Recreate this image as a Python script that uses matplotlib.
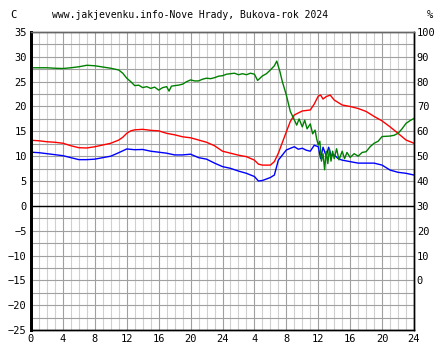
import matplotlib
matplotlib.use('Agg')
import matplotlib.pyplot as plt
import numpy as np

# hodiny od zacatku 48h okna
temp_t = [0, 1, 2, 3, 4, 5, 6, 7, 8, 9, 10, 11, 11.5, 12, 12.5, 13, 14, 15, 16, 17, 18, 19, 20,
          21, 22, 23, 24, 25, 26, 27, 28, 28.5, 29, 30, 30.5, 31, 32, 32.5, 33, 34, 35, 35.5,
          36, 36.3, 36.6, 37, 37.5, 38, 39, 40, 41, 42, 43, 44, 45, 46, 47, 48]
temp_c = [13.2, 13.1, 12.9, 12.8, 12.6, 12.1, 11.7, 11.65, 11.9, 12.25, 12.6, 13.25, 13.8, 14.6,
          15.1, 15.3, 15.4, 15.2, 15.1, 14.6, 14.3, 13.9, 13.7, 13.25, 12.8, 12.1, 11.0, 10.6,
          10.2, 9.9, 9.2, 8.4, 8.2, 8.2, 8.9, 10.6, 14.9, 17.0, 18.3, 19.1, 19.3, 20.5, 22.1,
          22.3, 21.5, 22.0, 22.3, 21.3, 20.3, 20.0, 19.6, 19.0, 18.0, 17.1, 15.9, 14.6, 13.25, 12.6]

dew_t = [0, 1, 2, 3, 4, 5, 6, 7, 8, 9, 10, 11, 12, 13, 14, 15, 16, 17, 18, 19, 20, 21, 22, 23,
         24, 25, 26, 27, 28, 28.5, 29, 30, 30.5, 31, 32, 33, 33.5, 34, 34.5, 35, 35.5, 36, 36.3,
         36.6, 37, 37.3, 37.6, 38, 38.5, 39, 40, 41, 42, 43, 44, 45, 46, 47, 48]
dew_c = [10.8, 10.7, 10.5, 10.3, 10.1, 9.7, 9.3, 9.3, 9.4, 9.7, 10.0, 10.7, 11.45, 11.3, 11.35,
         11.0, 10.8, 10.6, 10.25, 10.25, 10.4, 9.7, 9.4, 8.6, 7.9, 7.55, 7.0, 6.55, 5.9, 5.0, 5.1,
         5.7, 6.2, 9.2, 11.25, 11.9, 11.4, 11.6, 11.2, 11.0, 12.2, 11.9, 9.5, 11.8, 10.0, 11.8,
         10.2, 10.25, 9.5, 9.2, 8.9, 8.6, 8.6, 8.6, 8.2, 7.2, 6.75, 6.55, 6.2]

hum_t = [0, 1, 2, 3, 4, 5, 6, 7, 8, 9, 10, 11, 11.5, 12, 12.5, 13, 13.5, 14, 14.5, 15, 15.5, 16,
         16.5, 17, 17.3, 17.6, 18, 18.5, 19, 19.5, 20, 20.5, 21, 21.5, 22, 22.5, 23, 23.5, 24,
         24.5, 25, 25.5, 26, 26.5, 27, 27.5, 28, 28.4, 29, 29.5, 30, 30.5, 30.8, 31.2, 31.5, 32,
         32.5, 33, 33.3, 33.6, 34, 34.3, 34.6, 35, 35.3, 35.6, 35.8, 36, 36.2, 36.4, 36.6, 36.8,
         37, 37.2, 37.4, 37.6, 37.8, 38, 38.3, 38.6, 39, 39.3, 39.6, 40, 40.5, 41, 41.5, 42,
         42.5, 43, 43.5, 44, 44.5, 45, 45.5, 46, 46.5, 47, 47.5, 48]
hum_pct = [85.6, 85.6, 85.6, 85.4, 85.3, 85.6, 86.0, 86.6, 86.4, 85.9, 85.4, 84.7, 83.4, 81.4,
           80.0, 78.4, 78.6, 77.6, 78.0, 77.3, 77.8, 76.6, 77.6, 78.0, 76.2, 78.2, 78.4, 78.6,
           79.0, 80.0, 80.7, 80.3, 80.3, 81.0, 81.4, 81.2, 81.6, 82.2, 82.4, 83.0, 83.2, 83.4,
           82.8, 83.2, 82.8, 83.4, 83.0, 80.5, 82.3, 83.2, 84.7, 86.4, 88.3, 84.0, 80.0, 74.6,
           68.0, 64.6, 62.5, 65.0, 61.8, 64.5, 61.0, 63.0, 59.0, 60.5, 57.0, 54.5, 56.0, 48.0,
           51.0, 44.5, 52.0, 47.0, 53.0, 48.0, 52.0, 49.0, 53.0, 48.5, 52.0, 49.0, 51.5, 49.5,
           51.0, 50.0, 51.5, 51.8, 53.8, 55.2, 56.0, 57.9, 58.0, 58.1, 58.4, 59.2, 61.0, 63.2,
           64.3, 65.2]

x_ticks = [0, 4, 8, 12, 16, 20, 24, 28, 32, 36, 40, 44, 48]
x_labels = ['0', '4', '8', '12', '16', '20', '24', '4', '8', '12', '16', '20', '24']
title = 'www.jakjevenku.info-Nove Hrady, Bukova-rok 2024'

plt.rcParams['font.family'] = ['DejaVu Sans Mono']

fig = plt.figure(figsize=(4.44, 3.6), dpi=100)
ax = fig.add_axes([31 / 444, 30 / 360, 383 / 444, 298 / 360])
ax2 = ax.twinx()

ax.set_xlim(0, 48)
ax.set_ylim(-25, 35)
ax2.set_ylim(-20, 100)

# mrizka
ax.set_xticks(np.arange(0, 49, 1), minor=True)
ax.set_yticks(np.arange(-25, 35.1, 2.5), minor=True)
ax.grid(True, which='minor', axis='x', color='#d0d0d0', lw=0.8)
ax.grid(True, which='major', axis='x', color='#a0a0a0', lw=0.8)
ax.grid(True, which='minor', axis='y', color='#a0a0a0', lw=0.8)
ax.grid(True, which='major', axis='y', color='#a0a0a0', lw=0.8)
ax.set_axisbelow(True)
ax.axhline(0, color='black', lw=1)

ax.plot(temp_t, temp_c, color='#ff0000', lw=1.0)
ax.plot(dew_t, dew_c, color='#0000ff', lw=1.0)
ax2.plot(hum_t, hum_pct, color='#008000', lw=1.0)

ax.set_xticks(x_ticks)
ax.set_xticklabels(x_labels)
ax.set_yticks(np.arange(-25, 36, 5))
ax2.set_yticks(np.arange(0, 101, 10))
ax.tick_params(which='both', length=0, labelsize=7.5, pad=3)
ax2.tick_params(which='both', length=0, labelsize=7.5, pad=2)

for a in (ax, ax2):
    for s in a.spines.values():
        s.set_color('black')
        s.set_linewidth(1)
    a.spines['left'].set_linewidth(2)
    a.spines['top'].set_color('#666666')

fig.text(10 / 444, 1 - 15 / 360, 'C', fontsize=7.5, va='center', ha='left')
fig.text(190 / 444, 1 - 15 / 360, title, fontsize=7, va='center', ha='center')
fig.text(430 / 444, 1 - 15 / 360, '%', fontsize=7.5, va='center', ha='center')

fig.savefig('out.png', dpi=100, facecolor='white')
